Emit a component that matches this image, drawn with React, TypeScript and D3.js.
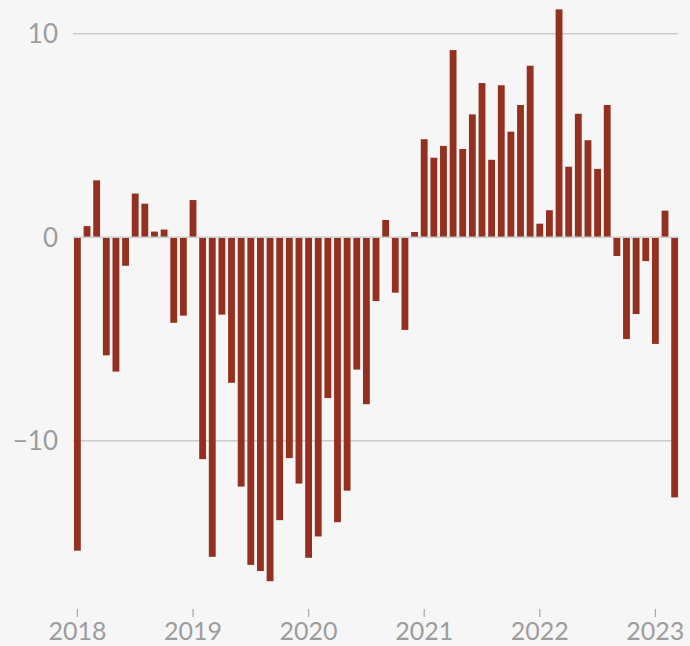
import React from "react";
import * as d3 from "d3";

const years = [2018, 2019, 2020, 2021, 2022, 2023];
const yTicks = [-10, 0, 10];
const values2018 = [-15.4, 0.55, 2.8, -5.8, -6.6, -1.4, 2.15, 1.65, 0.28, 0.38, -4.2, -3.85];
const values2019 = [1.83, -10.9, -15.7, -3.8, -7.15, -12.25, -16.1, -16.4, -16.9, -13.9, -10.85, -12.1];
const values2020 = [-15.75, -14.7, -7.9, -14.0, -12.45, -6.5, -8.2, -3.13, 0.85, -2.72, -4.55, 0.26];
const values2021 = [4.82, 3.91, 4.49, 9.2, 4.34, 6.04, 7.58, 3.81, 7.47, 5.19, 6.5, 8.43];
const values2022 = [0.67, 1.33, 11.2, 3.47, 6.07, 4.77, 3.36, 6.5, -0.92, -5.0, -3.77, -1.17];
const values2023 = [-5.24, 1.31, -12.78];

const values = [...values2018, ...values2019, ...values2020, ...values2021, ...values2022, ...values2023];
const labels = values.map((_, i) => `${2018 + Math.floor(i / 12)}-${(i % 12) + 1}`);

export default function App() {
  const W = 690;
  const H = 646;
  const step = 9.633;
  const firstCenter = 77.4;
  const x = d3
    .scaleBand<string>()
    .domain(labels)
    .range([firstCenter - step / 2, firstCenter + (labels.length - 1) * step + step / 2])
    .paddingInner(0.29)
    .paddingOuter(0.145);
  const y = d3.scaleLinear().domain([-10, 10]).range([440.8, 33.8]);
  const bw = x.bandwidth();
  const cx = (lab: string) => (x(lab) as number) + bw / 2;
  const font = "Lato, 'Open Sans', sans-serif";

  return (
    <svg width={W} height={H} style={{ position: "absolute", left: 0, top: 0, background: "#f6f6f6" }}>
      <rect x={0} y={0} width={W} height={H} fill="#f6f6f6" />
      {yTicks.map((t) => (
        <g key={t}>
          {t !== 0 && (
            <line x1={73} x2={678} y1={y(t)} y2={y(t)} stroke="#cbcbcb" strokeWidth={1.5} />
          )}
          <text
            x={58}
            y={y(t)}
            dy="0.36em"
            textAnchor="end"
            fontFamily={font}
            fontSize={26}
            fill="#9d9d9d"
          >
            {t < 0 ? `\u2212${Math.abs(t)}` : t}
          </text>
        </g>
      ))}
      {values.map((v, i) => (
        <rect
          key={labels[i]}
          x={x(labels[i])}
          y={y(Math.max(0, v))}
          width={bw}
          height={Math.abs(y(v) - y(0))}
          fill="#93301f"
        />
      ))}
      <line x1={73} x2={678} y1={y(0)} y2={y(0)} stroke="#cbcbcb" strokeWidth={1.5} />
      {years.map((yr) => {
        const lab = `${yr}-1`;
        const px = cx(lab);
        return (
          <g key={yr}>
            <line x1={px} x2={px} y1={609} y2={617} stroke="#a8a8a8" strokeWidth={1.2} />
            <text x={px} y={640} textAnchor="middle" fontFamily={font} fontSize={25} fill="#9d9d9d">
              {yr}
            </text>
          </g>
        );
      })}
    </svg>
  );
}
